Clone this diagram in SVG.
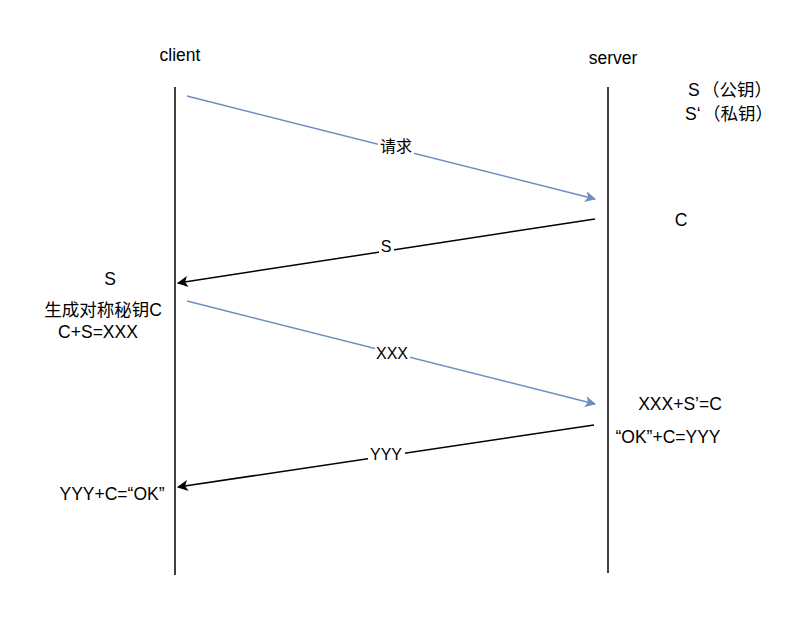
<svg xmlns="http://www.w3.org/2000/svg" width="808" height="638" viewBox="0 0 808 638">
<style>
text{font-family:"Liberation Sans","Noto Sans CJK SC",Arial,sans-serif;fill:#000}
.t{font-size:17.5px}
.l{font-size:16px;text-anchor:middle}
.life{stroke:#000;stroke-width:1.5;fill:none}
.blue{stroke:#6c8ebf;stroke-width:1.5;fill:none}
.blk{stroke:#000;stroke-width:1.5;fill:none}
</style>
<defs>
<marker id="ab" viewBox="0 0 10 10" refX="9" refY="5" markerWidth="11" markerHeight="11" markerUnits="userSpaceOnUse" orient="auto"><path d="M0,0 L10,5 L0,10 L2.5,5 Z" fill="#6c8ebf"/></marker>
<marker id="ak" viewBox="0 0 10 10" refX="9" refY="5" markerWidth="11" markerHeight="11" markerUnits="userSpaceOnUse" orient="auto"><path d="M0,0 L10,5 L0,10 L2.5,5 Z" fill="#000"/></marker>
</defs>
<rect width="808" height="638" fill="#fff"/>
<g id="client"><text class="t" x="180" y="61" text-anchor="middle">client</text><line class="life" x1="175" y1="87" x2="175" y2="575"/></g>
<g id="server"><text class="t" x="613" y="64" text-anchor="middle">server</text><line class="life" x1="608" y1="87" x2="608" y2="573"/></g>
<g id="connectors">
<line class="blue" x1="187" y1="96" x2="595" y2="199" marker-end="url(#ab)"/>
<rect x="378" y="136" width="36" height="20" fill="#fff"/><text class="l" x="396" y="152">请求</text>
<line class="blk" x1="595" y1="219" x2="178" y2="283" marker-end="url(#ak)"/>
<rect x="379" y="238" width="15" height="18" fill="#fff"/><text class="l" x="386" y="252">S</text>
<line class="blue" x1="187" y1="301" x2="595" y2="404" marker-end="url(#ab)"/>
<rect x="375" y="344" width="35" height="18" fill="#fff"/><text class="l" x="392" y="359">XXX</text>
<line class="blk" x1="594" y1="425" x2="178" y2="487" marker-end="url(#ak)"/>
<rect x="368" y="446" width="37" height="18" fill="#fff"/><text class="l" x="386" y="460">YYY</text>
</g>
<g id="server-keys"><text class="t" x="688" y="96">S<tspan x="702">（公钥）</tspan></text><text class="t" x="685" y="120">S‘<tspan x="703">（私钥）</tspan></text></g>
<g id="server-c"><text class="t" x="681" y="226" text-anchor="middle">C</text></g>
<g id="client-s"><text class="t" x="110" y="285" text-anchor="middle">S</text></g>
<g id="client-gen"><text class="t" x="103" y="316" text-anchor="middle">生成对称秘钥C</text><text class="t" x="98" y="338" text-anchor="middle">C+S=XXX</text></g>
<g id="server-dec"><text class="t" x="680" y="410" text-anchor="middle">XXX+S’=C</text><text class="t" x="668" y="443" text-anchor="middle">“OK”+C=YYY</text></g>
<g id="client-ok"><text class="t" x="112" y="500" text-anchor="middle">YYY+C=“OK”</text></g>
</svg>
